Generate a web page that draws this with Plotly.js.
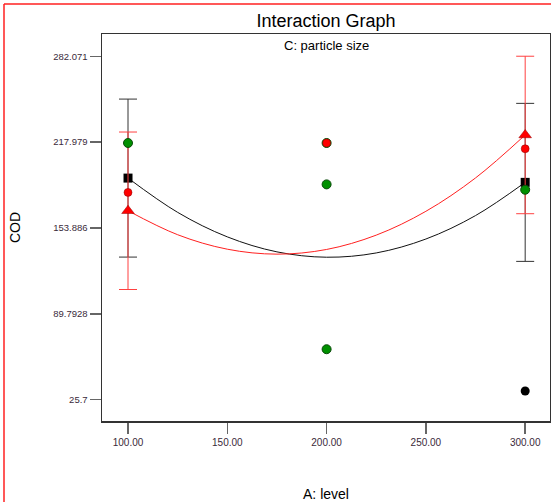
<!DOCTYPE html>
<html>
<head>
<meta charset="utf-8">
<script src="https://cdn.plot.ly/plotly-3.0.1.min.js"></script>
<style>
html,body{margin:0;padding:0;background:#fff;}
#chart{width:551px;height:502px;}
</style>
</head>
<body>
<div id="chart"></div>
<script>
// ---- data ----
var levels = [100, 300];
var predBlack = [191.1, 187.9];        // squares (C low)
var predRed = [166.7, 223.3];          // triangles (C high)
var errBlack = [59, 59];
var errRed = [58.8, 58.8];

var curveX = [100, 125, 150, 175, 200, 225, 250, 275, 300];
var curveBlack = [191.1, 165.5, 147.2, 136.0, 132.0, 135.2, 145.6, 163.1, 187.9];
var curveRed = [166.7, 148.8, 138.0, 134.3, 137.8, 148.5, 166.3, 191.2, 223.3];

var greenX = [100, 200, 200, 200, 300];
var greenY = [217.3, 217.3, 186.4, 63.3, 182.4];
var redX = [100, 200, 300];
var redY = [180.4, 217.3, 213.0];
var blackX = [300];
var blackY = [32.1];

var xTickVals = [100, 150, 200, 250, 300];
var xTickText = ["100.00", "150.00", "200.00", "250.00", "300.00"];
var yTickVals = [25.7, 89.7928, 153.886, 217.979, 282.071];
var yTickText = ["25.7", "89.7928", "153.886", "217.979", "282.071"];

var regular = "Liberation Sans, Arial, sans-serif";

var traces = [
  {x: curveX, y: curveBlack, type: "scatter", mode: "lines", line: {color: "#111", width: 1, shape: "spline", smoothing: 1}, hoverinfo: "skip"},
  {x: curveX, y: curveRed, type: "scatter", mode: "lines", line: {color: "#ff2020", width: 1, shape: "spline", smoothing: 1}, hoverinfo: "skip"},
  {x: levels, y: predBlack, type: "scatter", mode: "markers",
   marker: {symbol: "square", size: 9, color: "#000"},
   error_y: {type: "data", array: errBlack, visible: true, color: "#333", thickness: 1, width: 9}},
  {x: levels, y: predRed, type: "scatter", mode: "markers",
   marker: {symbol: "triangle-up", size: 11, color: "#ff0000", line: {color: "#900", width: 0.5}},
   error_y: {type: "data", array: errRed, visible: true, color: "#ff4040", thickness: 1, width: 9}},
  {x: greenX, y: greenY, type: "scatter", mode: "markers",
   marker: {symbol: "circle", size: 9, color: "#009000", line: {color: "#0a4a0a", width: 1}}},
  {x: redX, y: redY, type: "scatter", mode: "markers",
   marker: {symbol: "circle", size: 8, color: "#ff0000", line: {color: "#800", width: 0.5}}},
  {x: blackX, y: blackY, type: "scatter", mode: "markers",
   marker: {symbol: "circle", size: 9, color: "#000"}}
];

var layout = {
  width: 551, height: 502,
  margin: {l: 102, r: 1, t: 34, b: 81},
  paper_bgcolor: "#fff", plot_bgcolor: "#fff",
  showlegend: false,
  hovermode: false,
  title: {text: "Interaction Graph", font: {family: regular, size: 18, color: "#000"},
          x: 0.5, xref: "paper", y: 1 - 21/502, yref: "container", yanchor: "middle"},
  xaxis: {
    range: [86.9, 312.5], tickmode: "array", tickvals: xTickVals, ticktext: xTickText,
    ticks: "outside", ticklen: 11, tickwidth: 1.5, tickcolor: "#666",
    tickfont: {family: regular, size: 10, color: "#3a2a3a"},
    showgrid: false, zeroline: false, showline: true, linecolor: "#333", linewidth: 1.5, mirror: true,
    title: {text: "A: level", font: {family: regular, size: 14, color: "#000"}, standoff: 43}
  },
  yaxis: {
    range: [9.7, 298.7], tickmode: "array", tickvals: yTickVals, ticktext: yTickText,
    ticks: "outside", ticklen: 11, tickwidth: 1.5, tickcolor: "#666",
    tickfont: {family: regular, size: 9.5, color: "#3a2a3a"},
    showgrid: false, zeroline: false, showline: true, linecolor: "#333", linewidth: 1.5, mirror: true,
    title: {text: "COD", font: {family: regular, size: 14, color: "#000"}, standoff: 29}
  },
  annotations: [
    {text: "C: particle size", xref: "paper", yref: "paper", x: 0.5, y: (421 - 45.7) / 387,
     xanchor: "center", yanchor: "middle", showarrow: false,
     font: {family: regular, size: 13, color: "#000"}}
  ],
  shapes: [
    {type: "line", xref: "paper", yref: "paper",
     x0: (4 - 102) / 448, x1: (4 - 102) / 448, y0: (421 - 4) / 387, y1: (421 - 502) / 387,
     line: {color: "#ff2020", width: 1.5}},
    {type: "line", xref: "paper", yref: "paper",
     x0: (4 - 102) / 448, x1: (551 - 102) / 448, y0: (421 - 4) / 387, y1: (421 - 4) / 387,
     line: {color: "#ff2020", width: 1.5}}
  ]
};

Plotly.newPlot("chart", traces, layout, {displayModeBar: false, staticPlot: true});
</script>
</body>
</html>
